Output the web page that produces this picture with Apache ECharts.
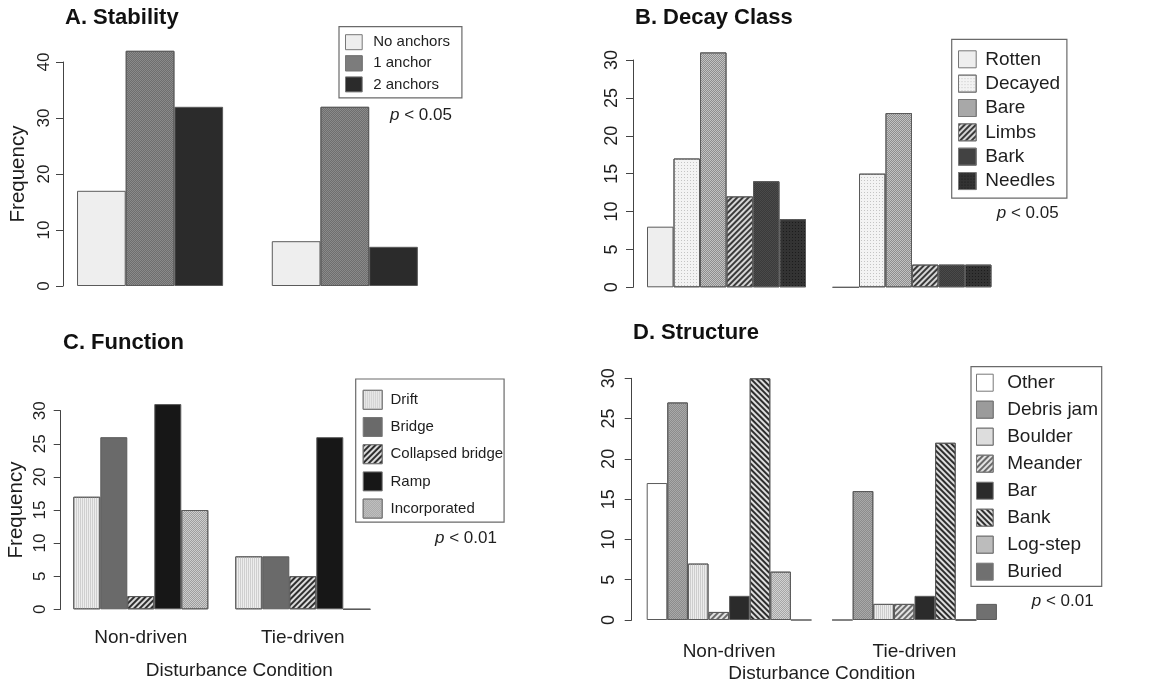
<!DOCTYPE html>
<html>
<head>
<meta charset="utf-8">
<script src="https://cdn.jsdelivr.net/npm/echarts@6/dist/echarts.min.js"></script>
<style>
html,body{margin:0;padding:0;background:#fff;}
#chart{width:1157px;height:686px;}
</style>
</head>
<body>
<div id="chart"></div>
<script>
// ---------- data ----------
const groups = ['Non-driven', 'Tie-driven'];

const stabilityNames = ['No anchors', '1 anchor', '2 anchors'];
const stabilityNon = [17, 42, 32];
const stabilityTie = [8, 32, 7];

const decayNames = ['Rotten', 'Decayed', 'Bare', 'Limbs', 'Bark', 'Needles'];
const decayNon = [8, 17, 31, 12, 14, 9];
const decayTie = [0, 15, 23, 3, 3, 3];

const functionNames = ['Drift', 'Bridge', 'Collapsed bridge', 'Ramp', 'Incorporated'];
const functionNon = [17, 26, 2, 31, 15];
const functionTie = [8, 8, 5, 26, 0];

const structureNames = ['Other', 'Debris jam', 'Boulder', 'Meander', 'Bar', 'Bank', 'Log-step', 'Buried'];
const structureNon = [17, 27, 7, 1, 3, 30, 6, 0];
const structureTie = [0, 16, 2, 2, 3, 22, 0, 2];

const yTicksA = [0, 40, 10];
const yTicksB = [0, 30, 5];
const yTicksC = [0, 30, 5];
const yTicksD = [0, 30, 5];

// ---------- styles ----------
const FONT = 'Liberation Sans, Arial, Helvetica, sans-serif';
const TXT = '#1e1e1e';
const EDGE = '#5a5a5a';

function hatch(rot, color) {
  return { symbol: 'rect', symbolSize: 1, dashArrayX: [1, 0], dashArrayY: [2, 2], rotation: rot, color: color };
}
function checker(color) {
  return { symbol: 'rect', symbolSize: 1, dashArrayX: [[1, 1], [0, 1, 1, 0]], dashArrayY: [1, 0], color: color };
}
function dots(color) {
  return { symbol: 'rect', symbolSize: 1, dashArrayX: [1, 2], dashArrayY: [1, 2], color: color };
}
function vlines(color) {
  return { symbol: 'rect', symbolSize: 1, dashArrayX: [1, 1], dashArrayY: [1, 0], color: color };
}

const stabilityStyle = [
  { color: '#eeeeee' },
  { color: '#8a8a8a', decal: checker('#6e6e6e') },
  { color: '#2b2b2b' }
];
const decayStyle = [
  { color: '#eeeeee' },
  { color: '#f3f3f3', decal: dots('#c4c4c4') },
  { color: '#c2c2c2', decal: checker('#8e8e8e') },
  { color: '#d6d6d6', decal: hatch(-Math.PI / 4, '#3a3a3a') },
  { color: '#4a4a4a', decal: checker('#3a3a3a') },
  { color: '#333333', decal: dots('#1c1c1c') }
];
const functionStyle = [
  { color: '#ededed', decal: vlines('#cfcfcf') },
  { color: '#6a6a6a' },
  { color: '#dadada', decal: hatch(-Math.PI / 4, '#2e2e2e') },
  { color: '#171717' },
  { color: '#cdcdcd', decal: checker('#9e9e9e') }
];
const structureStyle = [
  { color: '#ffffff' },
  { color: '#a9a9a9', decal: checker('#8c8c8c') },
  { color: '#ececec', decal: vlines('#cdcdcd') },
  { color: '#e2e2e2', decal: hatch(-Math.PI / 4, '#6a6a6a') },
  { color: '#2b2b2b' },
  { color: '#dedede', decal: hatch(Math.PI / 4, '#2e2e2e') },
  { color: '#d2d2d2', decal: checker('#a6a6a6') },
  { color: '#707070' }
];

// ---------- panels layout ----------
const panels = [
  { names: stabilityNames, non: stabilityNon, tie: stabilityTie, styles: stabilityStyle, ticks: yTicksA,
    grid: { left: 52.7, top: 62, width: 389.5, height: 224 }, yOffset: -10.3, yFont: 17, yMargin: 10,
    yName: 'Frequency', showX: false },
  { names: decayNames, non: decayNon, tie: decayTie, styles: decayStyle, ticks: yTicksB,
    grid: { left: 633.75, top: 60, width: 371, height: 227.3 }, yOffset: 0.75, yFont: 18, yMargin: 12,
    yName: '', showX: false },
  { names: functionNames, non: functionNon, tie: functionTie, styles: functionStyle, ticks: yTicksC,
    grid: { left: 59.8, top: 410.7, width: 324, height: 198.6 }, yOffset: -0.9, yFont: 17, yMargin: 12,
    yName: 'Frequency', showX: true, xMargin: 19, xNameGap: 52, xNamePad: 35 },
  { names: structureNames, non: structureNon, tie: structureTie, styles: structureStyle, ticks: yTicksD,
    grid: { left: 636.4, top: 378.3, width: 370.8, height: 241.7 }, yOffset: 4.7, yFont: 18, yMargin: 14,
    yName: '', showX: true, xMargin: 22, xNameGap: 44, xNamePad: 0 }
];

const grids = [], xAxes = [], yAxes = [], series = [];
panels.forEach((p, k) => {
  grids.push(Object.assign({ containLabel: false }, p.grid));
  xAxes.push({
    type: 'category', gridIndex: k, data: groups,
    axisLine: { show: false }, axisTick: { show: false },
    axisLabel: { show: p.showX, fontSize: 19, color: TXT, fontFamily: FONT, margin: p.xMargin || 8 },
    name: p.showX ? 'Disturbance Condition' : '',
    nameLocation: 'middle', nameGap: p.xNameGap || 0,
    nameTextStyle: { fontSize: 19, color: TXT, fontFamily: FONT, padding: [0, 0, 0, p.xNamePad || 0] }
  });
  yAxes.push({
    type: 'value', gridIndex: k, min: p.ticks[0], max: p.ticks[1], interval: p.ticks[2],
    offset: p.yOffset,
    splitLine: { show: false },
    axisLine: { show: true, lineStyle: { color: '#444', width: 1 } },
    axisTick: { show: true, length: 7, lineStyle: { color: '#444', width: 1 } },
    axisLabel: { rotate: 90, fontSize: p.yFont, color: TXT, fontFamily: FONT, margin: p.yMargin },
    name: p.yName, nameLocation: 'middle', nameGap: 34,
    nameTextStyle: { fontSize: 20.5, color: TXT, fontFamily: FONT }
  });
  const gapPct = (100 / (p.names.length + 1)) + '%';
  p.names.forEach((nm, i) => {
    series.push({
      type: 'bar', name: nm, xAxisIndex: k, yAxisIndex: k,
      data: [p.non[i], p.tie[i]],
      barGap: '0%', barCategoryGap: gapPct, clip: false,
      itemStyle: Object.assign({ borderColor: EDGE, borderWidth: 1 }, p.styles[i]),
      emphasis: { disabled: true }, silent: true
    });
  });
});

function legend(names, left, top, opt) {
  return {
    data: names, left: left, top: top, orient: 'vertical', icon: 'rect',
    itemWidth: opt.iw, itemHeight: opt.ih, itemGap: opt.gap,
    padding: opt.pad, borderColor: '#6a6a6a', borderWidth: 1.2,
    selectedMode: false,
    itemStyle: { borderWidth: 1, borderColor: '#777' },
    textStyle: { fontSize: opt.fs, lineHeight: opt.ih, color: TXT, fontFamily: FONT, padding: [0, 0, 0, opt.tp] }
  };
}

const legends = [
  legend(stabilityNames, 339, 26.7, { iw: 16.7, ih: 15, gap: 5.1, pad: [7.5, 12, 5.5, 6], fs: 15, tp: 6 }),
  legend(decayNames, 951.7, 39.3, { iw: 17.7, ih: 17, gap: 5.35, pad: [10.5, 6.7, 7.5, 6.3], fs: 19, tp: 4 }),
  legend(functionNames, 355.7, 379, { iw: 19, ih: 19, gap: 7.2, pad: [10.8, 1, 3.5, 7], fs: 15, tp: 3.3 }),
  legend(structureNames, 971, 366.7, { iw: 16.7, ih: 17, gap: 8.0, pad: [6.5, 3.7, 5.1, 5], fs: 19, tp: 9 })
];

function heading(text, left, top) {
  return { text: text, left: left, top: top, padding: 0,
    textStyle: { fontSize: 22, fontWeight: 'bold', color: '#111', fontFamily: FONT } };
}
function pval(text, left, top) {
  return { text: '{i|p} ' + text, left: left, top: top, padding: 0,
    textStyle: { fontSize: 17, fontWeight: 'normal', color: TXT, fontFamily: FONT,
      rich: { i: { fontSize: 17, fontStyle: 'italic', color: TXT, fontFamily: FONT } } } };
}

const titles = [
  heading('A. Stability', 65, 7),
  heading('B. Decay Class', 635, 7),
  heading('C. Function', 63, 331.5),
  heading('D. Structure', 633, 321.5),
  pval('< 0.05', 390, 106.5),
  pval('< 0.05', 996.7, 204.8),
  pval('< 0.01', 435, 529.8),
  pval('< 0.01', 1031.7, 593.2)
];

const chart = echarts.init(document.getElementById('chart'), null, { renderer: 'canvas' });
chart.setOption({
  animation: false,
  backgroundColor: '#ffffff',
  title: titles,
  legend: legends,
  grid: grids,
  xAxis: xAxes,
  yAxis: yAxes,
  series: series
});
</script>
</body>
</html>
